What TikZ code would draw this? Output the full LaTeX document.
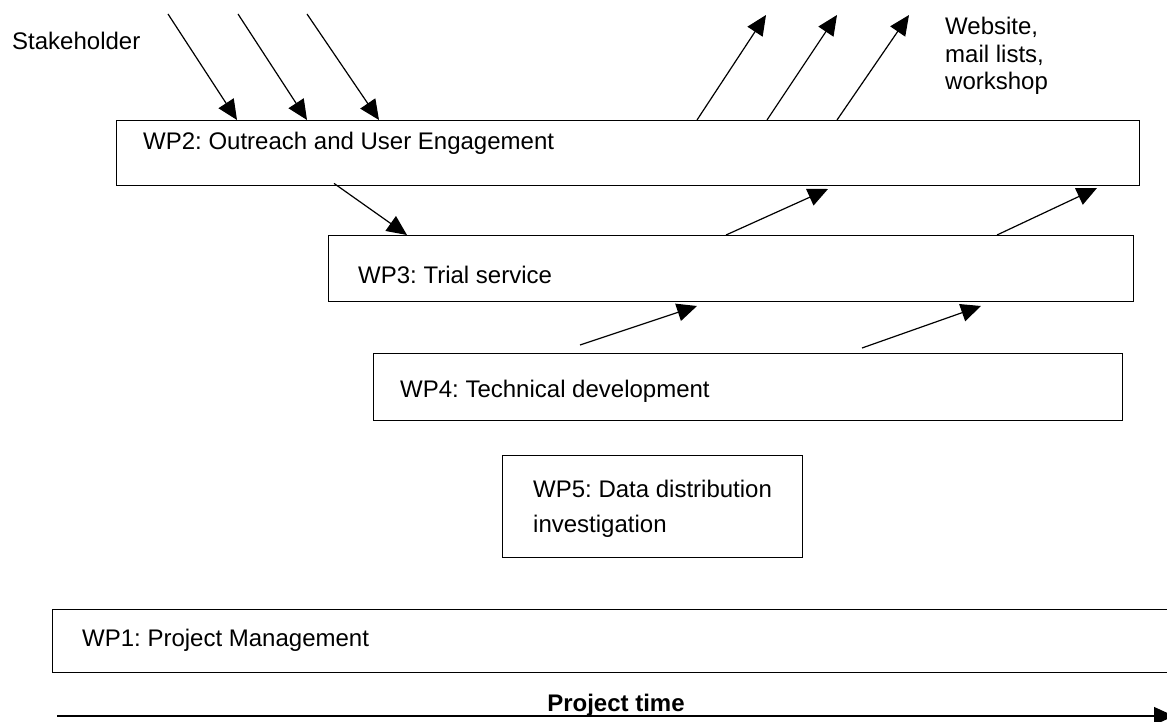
\documentclass[tikz,border=0pt]{standalone}
\usepackage{fontspec}
\setmainfont{Liberation Sans}
\usetikzlibrary{arrows.meta,calc}
\frenchspacing

\begin{document}
\begin{tikzpicture}[x=1pt, y=-1pt,
	font=\fontsize{24}{27.5}\selectfont,
	wpbox/.style={draw, line width=1.4pt, anchor=north west, inner sep=0pt},
	wptext/.style={anchor=base west, inner sep=0pt, align=left},
	flow/.style={line width=1.2pt, -{Triangle[length=20pt, width=18pt]}}]
	\useasboundingbox (0,0) rectangle (1167,722);
	\node[wpbox, minimum width=1023pt, minimum height=65pt] (wp2) at (116,120) {};
	\node[wpbox, minimum width=805pt, minimum height=66pt] (wp3) at (328,235) {};
	\node[wpbox, minimum width=749pt, minimum height=67pt] (wp4) at (373,353) {};
	\node[wpbox, minimum width=300pt, minimum height=102pt] (wp5) at (502,455) {};
	\node[wpbox, minimum width=1130pt, minimum height=63pt] (wp1) at (52,609) {};
	\node[wptext] (wp2 text) at (143,150) {WP2: Outreach and User Engagement};
	\node[wptext] (wp3 text) at (358,283) {WP3: Trial service};
	\node[wptext] (wp4 text) at (400,397) {WP4: Technical development};
	\node[wptext, font=\fontsize{24}{35}\selectfont] (wp5 text) at (533,532) {WP5: Data distribution\\investigation};
	\node[wptext] (wp1 text) at (82,646) {WP1: Project Management};
	\node[wptext] (stake) at (12,50) {Stakeholder};
	\node[wptext] (dissem) at (945,90) {Website,\\mail lists,\\workshop};
	\node[anchor=base, inner sep=0pt, font=\fontsize{24}{27.5}\selectfont\bfseries] (ptime) at (616,711) {Project time};

	\coordinate (s1) at (168,14);
	\coordinate (s2) at (238,14);
	\coordinate (s3) at (307,14);
	\coordinate (o1) at (766,15);
	\coordinate (o2) at (837,15);
	\coordinate (o3) at (909,15);
	\coordinate (t1) at (828,189);
	\coordinate (t2) at (1097,188);
	\coordinate (d1) at (580,345);
	\coordinate (d2) at (862,348);
	\coordinate (d1e) at (697,306);
	\coordinate (d2e) at (981,306);
	\coordinate (tstart) at (57,716);
	\coordinate (tend) at (1174,716);

	\draw[flow] (s1) -- ($(wp2.north west)+(121,0)$);
	\draw[flow] (s2) -- ($(wp2.north west)+(191,0)$);
	\draw[flow] (s3) -- ($(wp2.north west)+(263,0)$);
	\draw[flow] ($(wp2.north west)+(581,0)$) -- (o1);
	\draw[flow] ($(wp2.north west)+(651,0)$) -- (o2);
	\draw[flow] ($(wp2.north west)+(721,0)$) -- (o3);
	\draw[flow] ($(wp2.south west)+(218,-3)$) -- ($(wp3.north west)+(79,0)$);
	\draw[flow] ($(wp3.north west)+(398,0)$) -- (t1);
	\draw[flow] ($(wp3.north west)+(669,0)$) -- (t2);
	\draw[flow] (d1) -- (d1e);
	\draw[flow] (d2) -- (d2e);
	\draw[flow] (tstart) -- (tend);
\end{tikzpicture}
\end{document}
